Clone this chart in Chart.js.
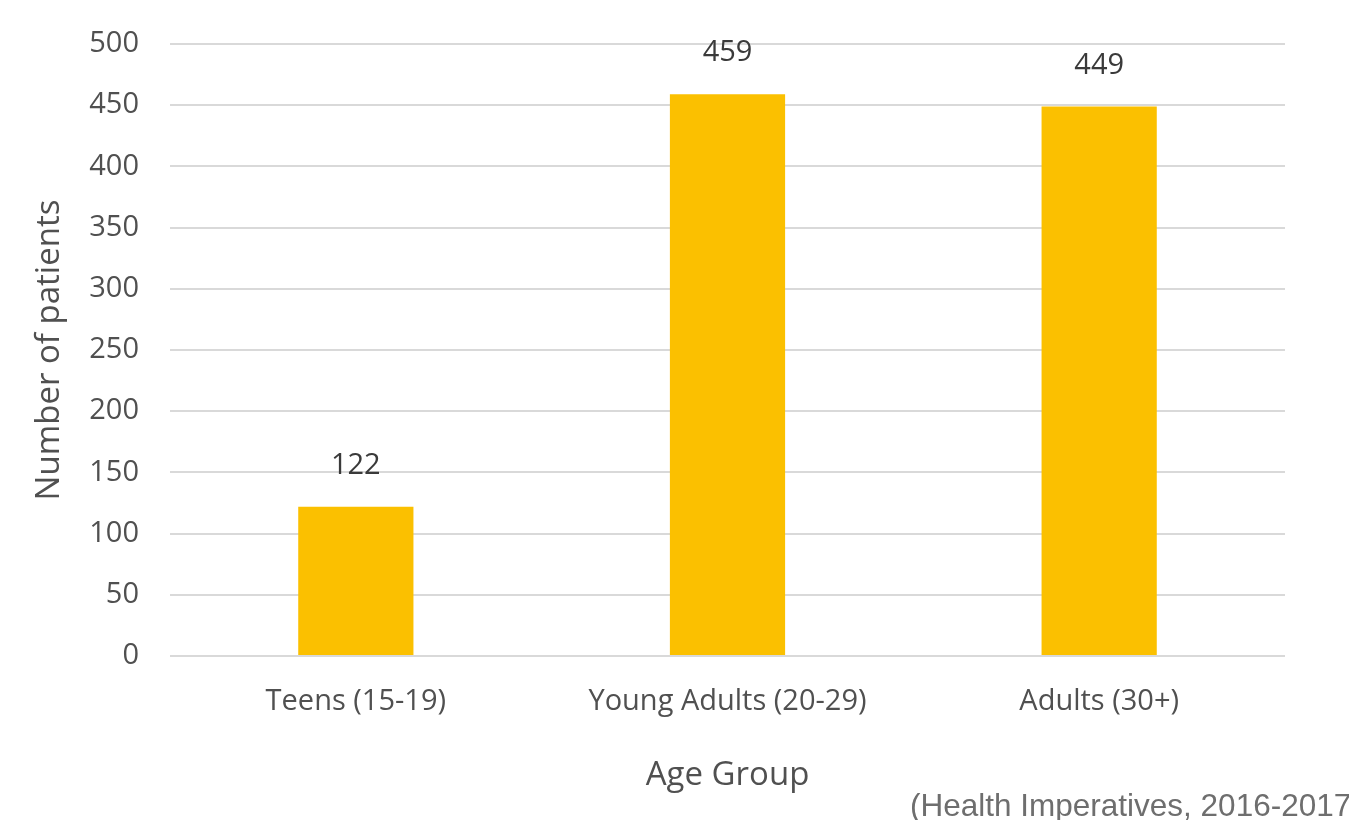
<!DOCTYPE html>
<html>
<head>
<meta charset="utf-8">
<script src="https://cdn.jsdelivr.net/npm/chart.js@4"></script>
<style>
  html, body { margin: 0; padding: 0; background: #fff; }
  #wrap { width: 1349px; height: 820px; position: relative; }
</style>
</head>
<body>
<div id="wrap"><canvas id="barChart"></canvas></div>
<script>
const ageGroups = ["Teens (15-19)", "Young Adults (20-29)", "Adults (30+)"];
const patients = [122, 459, 449];
const sourceNote = "(Health Imperatives, 2016-2017)";

const textGrey = "#505050";

// value labels above each bar
const barValues = {
    id: "barValues",
    afterDatasetsDraw(chart) {
        const ctx = chart.ctx;
        const meta = chart.getDatasetMeta(0);
        ctx.save();
        ctx.font = "29px 'Open Sans'";
        ctx.fillStyle = "#3a3a3a";
        ctx.textAlign = "center";
        ctx.textBaseline = "middle";
        meta.data.forEach((bar, i) => {
            ctx.fillText(patients[i], bar.x, bar.y - 41);
        });
        ctx.restore();
    }
};

// source line at bottom right
const sourceText = {
    id: "sourceText",
    afterDraw(chart) {
        const ctx = chart.ctx;
        ctx.save();
        ctx.font = "31.5px 'Liberation Sans'";
        ctx.fillStyle = "#6e6e6e";
        ctx.textAlign = "left";
        ctx.textBaseline = "alphabetic";
        ctx.fillText(sourceNote, 910, 816);
        ctx.restore();
    }
};

const ctx = document.getElementById("barChart").getContext("2d");
new Chart(ctx, {
    type: "bar",
    data: {
        labels: ageGroups,
        datasets: [{
            data: patients,
            backgroundColor: "#fbc000",
            barPercentage: 1,
            categoryPercentage: 0.31,
        }]
    },
    options: {
        responsive: true,
        maintainAspectRatio: false,
        animation: false,
        layout: { padding: { top: 44, right: 64, left: 0, bottom: 0 } },
        plugins: { legend: { display: false }, tooltip: { enabled: false } },
        scales: {
            x: {
                grid: { display: false },
                border: { display: false },
                ticks: { color: textGrey, font: { family: "'Open Sans'", size: 29 }, padding: 20, maxRotation: 0, autoSkip: false },
                title: {
                    display: true, text: "Age Group", color: textGrey,
                    font: { family: "'Open Sans'", size: 33 },
                    padding: { top: 0, bottom: 25 }
                },
                afterFit(scale) { scale.height = 164; scale.paddingLeft = 0; scale.paddingRight = 0; }
            },
            y: {
                min: 0, max: 500,
                ticks: { stepSize: 50, color: textGrey, font: { family: "'Open Sans'", size: 29 }, padding: 31 },
                grid: { color: "#d9d9d9", lineWidth: 2, drawTicks: false },
                border: { display: false },
                title: {
                    display: true, text: "Number of patients", color: textGrey,
                    font: { family: "'Open Sans'", size: 33 },
                    padding: { top: 30, bottom: 30 }
                },
                afterFit(scale) { scale.width = 170; scale.paddingTop = 0; scale.paddingBottom = 0; }
            }
        }
    },
    plugins: [barValues, sourceText]
});
</script>
</body>
</html>
